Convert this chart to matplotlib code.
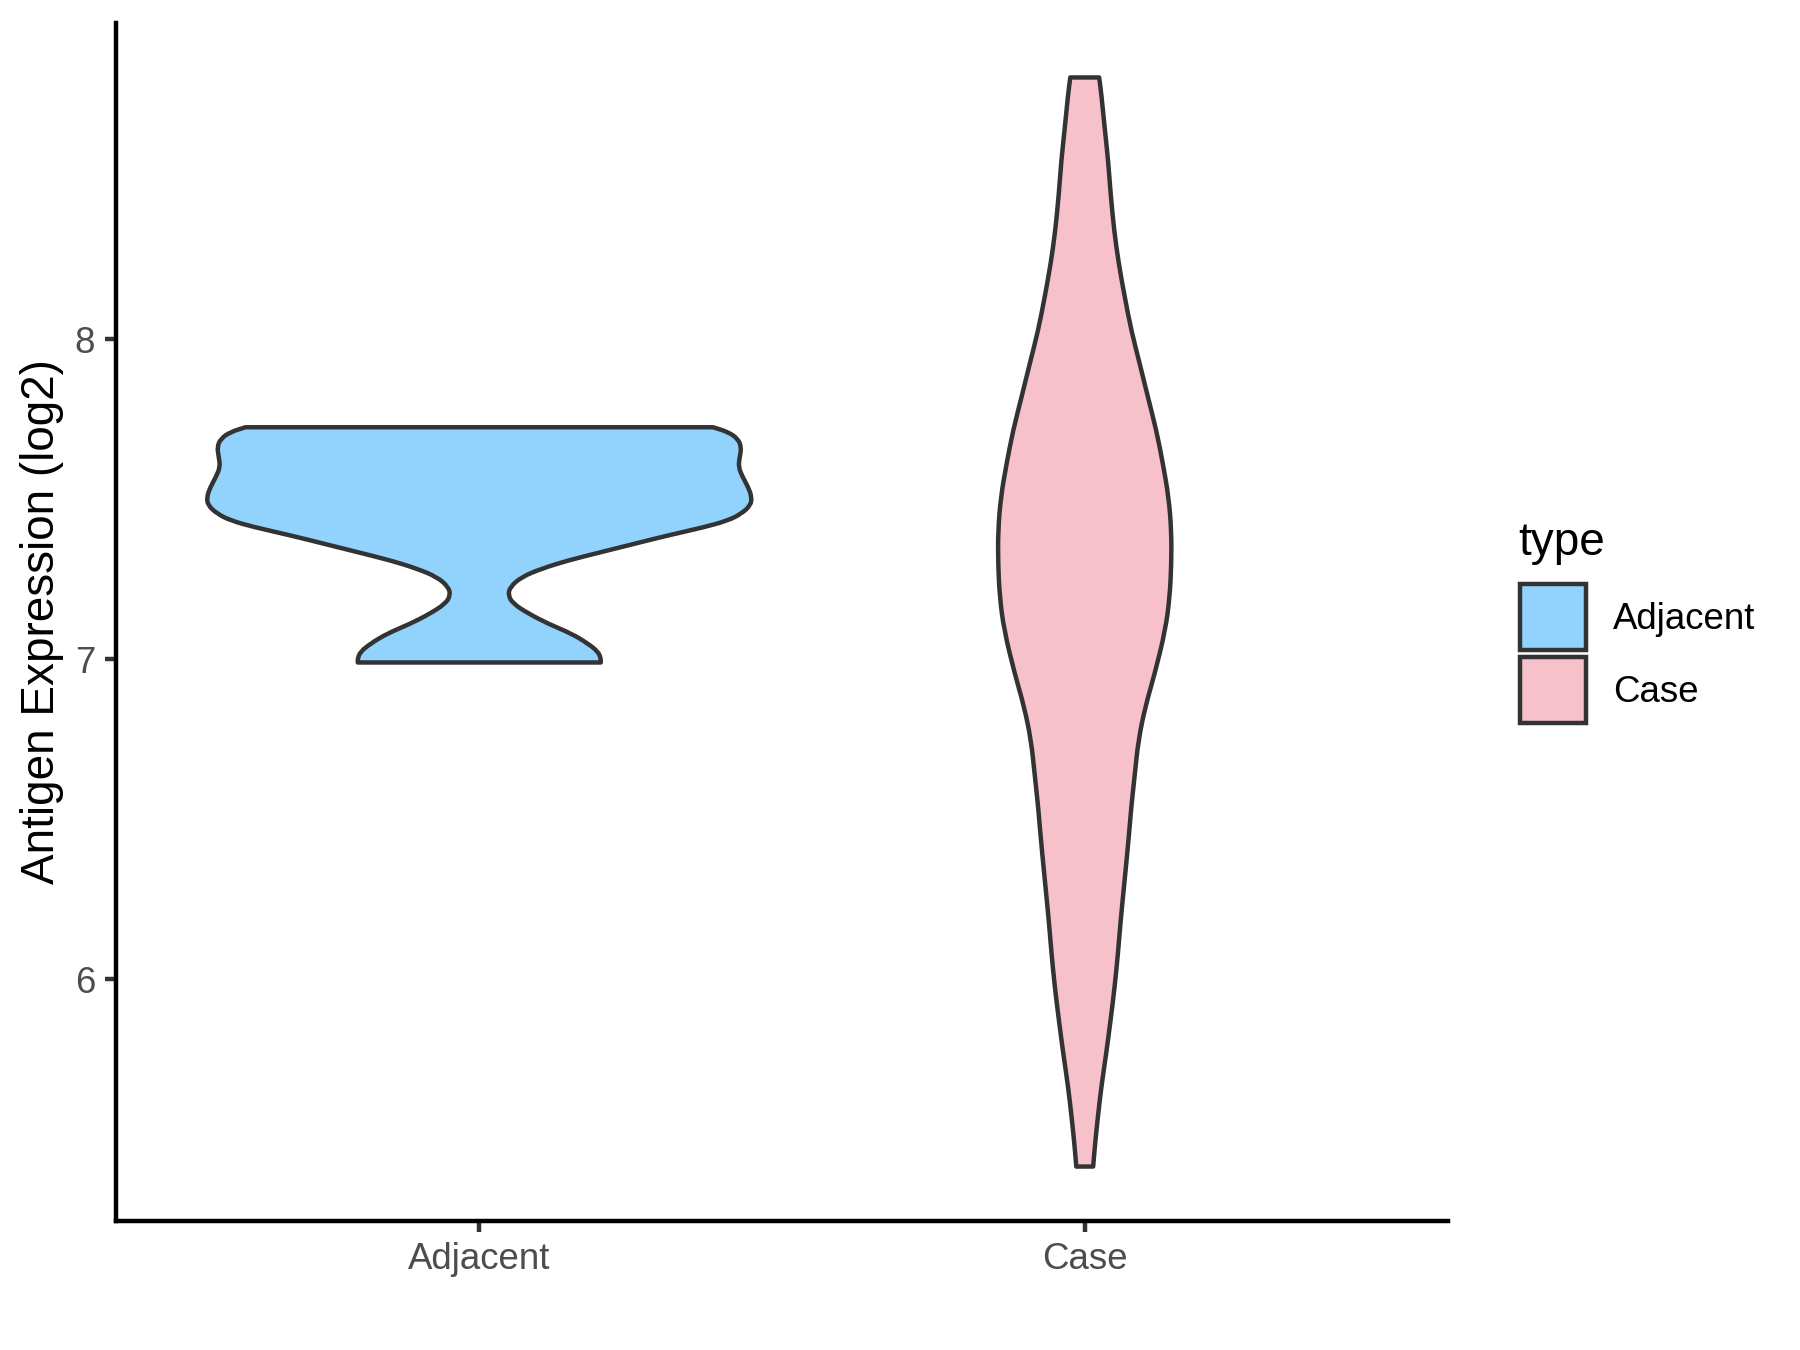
import matplotlib
matplotlib.use("Agg")
import matplotlib.pyplot as plt
from matplotlib.patches import Rectangle, PathPatch
from matplotlib.path import Path
import numpy as np

plt.rcParams['font.family'] = ['Liberation Sans', 'DejaVu Sans']

# ---- data ----
categories = ["Adjacent", "Case"]
fill_colors = ["#92D3FE", "#F7C1CC"]

# violin density profiles: expression level (log2) and relative density (max = 1)
adjacent_expr = [7.725, 7.710, 7.689, 7.663, 7.632, 7.601, 7.569, 7.538, 7.507,
                 7.481, 7.455, 7.434, 7.413, 7.387, 7.361, 7.335, 7.309, 7.283,
                 7.257, 7.226, 7.200, 7.174, 7.143, 7.111, 7.080, 7.049, 7.023,
                 7.002, 6.990]
adjacent_density = [0.858, 0.914, 0.949, 0.962, 0.956, 0.951, 0.967, 0.987, 1.000,
                    0.996, 0.962, 0.914, 0.827, 0.692, 0.570, 0.448, 0.326, 0.228,
                    0.155, 0.113, 0.106, 0.124, 0.180, 0.253, 0.339, 0.399, 0.437,
                    0.446, 0.446]

case_expr = [8.818, 8.766, 8.662, 8.558, 8.454, 8.339, 8.235, 8.131, 8.027, 7.923,
             7.819, 7.715, 7.611, 7.507, 7.403, 7.299, 7.195, 7.091, 6.955, 6.851,
             6.747, 6.643, 6.539, 6.497, 6.393, 6.289, 6.185, 6.081, 5.977, 5.873,
             5.769, 5.665, 5.561, 5.477, 5.415]
case_density = [0.053, 0.061, 0.073, 0.086, 0.095, 0.108, 0.125, 0.147, 0.171, 0.202,
                0.232, 0.263, 0.287, 0.308, 0.318, 0.318, 0.312, 0.296, 0.257, 0.222,
                0.197, 0.184, 0.171, 0.167, 0.156, 0.144, 0.132, 0.122, 0.110, 0.095,
                0.079, 0.061, 0.047, 0.037, 0.031]

y_ticks = [6, 7, 8]
y_label = "Antigen Expression (log2)"
legend_title = "type"

profiles = [(adjacent_expr, adjacent_density), (case_expr, case_density)]


def smooth_side(pts, verts, codes, first):
    """Append a smooth (quadratic Bezier through midpoints) curve along pts."""
    pts = np.asarray(pts)
    verts.append(pts[0]); codes.append(Path.MOVETO if first else Path.LINETO)
    verts.append((pts[0] + pts[1]) / 2); codes.append(Path.LINETO)
    for k in range(1, len(pts) - 1):
        verts.append(pts[k]); codes.append(Path.CURVE3)
        verts.append((pts[k] + pts[k + 1]) / 2); codes.append(Path.CURVE3)
    verts.append(pts[-1]); codes.append(Path.LINETO)


# ---- figure ----
W, H = 1800, 1350
fig = plt.figure(figsize=(6, 4.5), dpi=300)
ax = fig.add_axes([116 / W, 1 - 1221 / H, (1448 - 116) / W, (1221 - 23) / H])

edge = "#333333"
lw = 1.07
max_half = 0.45
for i, (cat, (ys, ds)) in enumerate(zip(categories, profiles)):
    pos = i + 1
    ys = np.asarray(ys)
    hw = np.asarray(ds) * max_half
    left = np.column_stack([pos - hw, ys])            # top -> bottom
    right = np.column_stack([pos + hw, ys])[::-1]     # bottom -> top
    verts, codes = [], []
    smooth_side(left, verts, codes, True)
    smooth_side(right, verts, codes, False)
    verts.append(left[0]); codes.append(Path.CLOSEPOLY)
    patch = PathPatch(Path(verts, codes), facecolor=fill_colors[i],
                      edgecolor=edge, linewidth=lw, joinstyle='round')
    ax.add_patch(patch)

all_y = np.concatenate([adjacent_expr, case_expr])
lo, hi = all_y.min(), all_y.max()
pad = 0.05 * (hi - lo)
ax.set_ylim(lo - pad, hi + pad)
ax.set_xlim(0.4, 2.6)

ax.set_xticks(range(1, len(categories) + 1))
ax.set_xticklabels(categories)
ax.set_yticks(y_ticks)
ax.set_yticklabels([str(t) for t in y_ticks])

for s in ["top", "right"]:
    ax.spines[s].set_visible(False)
for s in ["left", "bottom"]:
    ax.spines[s].set_linewidth(lw)
    ax.spines[s].set_color("black")
    ax.spines[s].set_capstyle('projecting')

ax.tick_params(axis='both', length=2.75, width=lw, color="#333333",
               labelsize=8.8, labelcolor="#4D4D4D", pad=2.2)

fig.text(42 / W, 1 - 622 / H, y_label, rotation=90, ha='center', va='center',
         fontsize=11, color='black')

# ---- legend ----
fig.text(1518 / W, 1 - 555 / H, legend_title, ha='left', va='baseline',
         fontsize=11, color='black')
key_top = 584
key_size = 66
key_step = 73
for i, cat in enumerate(categories):
    top = key_top + i * key_step
    rect = Rectangle((1520 / W, 1 - (top + key_size) / H), key_size / W, key_size / H,
                     transform=fig.transFigure, facecolor=fill_colors[i],
                     edgecolor=edge, linewidth=lw)
    fig.add_artist(rect)
    fig.text(1613 / W, 1 - (top + 45) / H, cat, ha='left', va='baseline',
             fontsize=8.8, color='black')

fig.savefig("out.png", dpi=300, facecolor='white')
